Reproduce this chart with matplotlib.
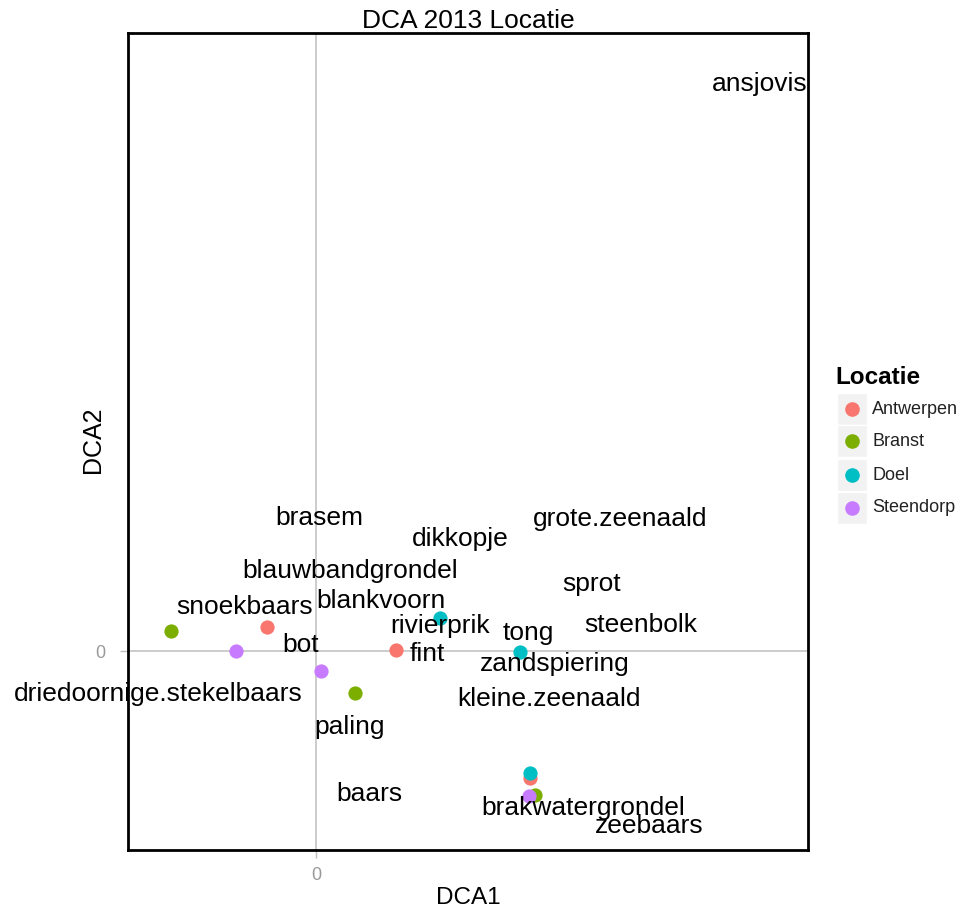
import matplotlib
matplotlib.use("Agg")
import matplotlib.pyplot as plt
from matplotlib.patches import Rectangle
from matplotlib.lines import Line2D

plt.rcParams['font.family'] = ['Liberation Sans', 'DejaVu Sans']

# Site scores (DCA1, DCA2) and location
site_x = [-1.45, -0.49, -0.80, 0.05, 0.39, 0.80, 1.24, 2.04, 2.14, 2.14, 2.13, 2.19]
site_y = [0.20, 0.24, 0.00, -0.20, -0.42, 0.01, 0.33, -0.01, -1.22, -1.27, -1.45, -1.44]
site_loc = ["Branst", "Antwerpen", "Steendorp", "Steendorp", "Branst", "Antwerpen",
            "Doel", "Doel", "Doel", "Antwerpen", "Steendorp", "Branst"]

# Species scores
species = ["ansjovis", "brasem", "dikkopje", "grote.zeenaald", "blauwbandgrondel", "sprot",
           "snoekbaars", "blankvoorn", "rivierprik", "steenbolk", "tong", "bot", "fint",
           "zandspiering", "driedoornige.stekelbaars", "kleine.zeenaald", "paling", "baars",
           "brakwatergrondel", "zeebaars"]
sp_x = [4.44, 0.03, 1.44, 3.04, 0.34, 2.76, -0.71, 0.65, 1.24, 3.25, 2.12, -0.15, 1.11,
        2.39, -1.58, 2.33, 0.34, 0.53, 2.67, 3.33]
sp_y = [5.67, 1.33, 1.12, 1.32, 0.80, 0.67, 0.44, 0.50, 0.25, 0.26, 0.18, 0.06, -0.03,
        -0.13, -0.43, -0.48, -0.76, -1.43, -1.57, -1.75]

locations = ["Antwerpen", "Branst", "Doel", "Steendorp"]
colors = {"Antwerpen": "#F8766D", "Branst": "#7CAE00", "Doel": "#00BFC4", "Steendorp": "#C77CFF"}

fig = plt.figure(figsize=(9.66, 9.14), dpi=100)
ax = fig.add_axes([128/966, 1-850/914, 680/966, 817/914])
ax.set_xlim(-1.88, 4.92)
ax.set_ylim(-1.99, 6.18)

ax.axhline(0, color="#BEBEBE", lw=1.1, zorder=0)
ax.axvline(0, color="#BEBEBE", lw=1.1, zorder=0)

for loc in locations:
    xs = [x for x, l in zip(site_x, site_loc) if l == loc]
    ys = [y for y, l in zip(site_y, site_loc) if l == loc]
    ax.scatter(xs, ys, s=105, color=colors[loc], zorder=3, linewidths=0)

for name, x, y in zip(species, sp_x, sp_y):
    ax.text(x, y, name, ha="center", va="center", fontsize=19, color="black", zorder=4)

ax.set_xticks([0])
ax.set_yticks([0])
ax.tick_params(colors="#BEBEBE", labelcolor="#9A9A9A", labelsize=13, length=6, width=1)
ax.tick_params(axis="x", pad=6)
ax.tick_params(axis="y", pad=10)
for s in ax.spines.values():
    s.set_linewidth(2)
    s.set_color("black")

ax.set_title("DCA 2013 Locatie", fontsize=19, pad=3)
ax.set_xlabel("DCA1", fontsize=17.5)
ax.xaxis.set_label_coords(0.5, -0.045)
ax.set_ylabel("DCA2", fontsize=18)
ax.yaxis.set_label_coords(-0.034, 0.502)

# Legend
fig.text(835/966, 1-377/914, "Locatie", fontsize=17.5, fontweight="bold", va="center", ha="left")
ys_leg = [409, 441, 475, 508]
for loc, yp in zip(locations, ys_leg):
    fig.add_artist(Rectangle((837/966, 1-(yp+16)/914), 30/966, 32/914,
                             transform=fig.transFigure, facecolor="#F2F2F2", edgecolor="white", lw=1))
    fig.add_artist(Line2D([852/966], [1-yp/914], marker="o", markersize=9.5, color=colors[loc],
                          linestyle="none", transform=fig.transFigure))
    fig.text(872/966, 1-yp/914, loc, fontsize=13, va="center", ha="left", color="#222222")

fig.savefig("out.png", dpi=100)
